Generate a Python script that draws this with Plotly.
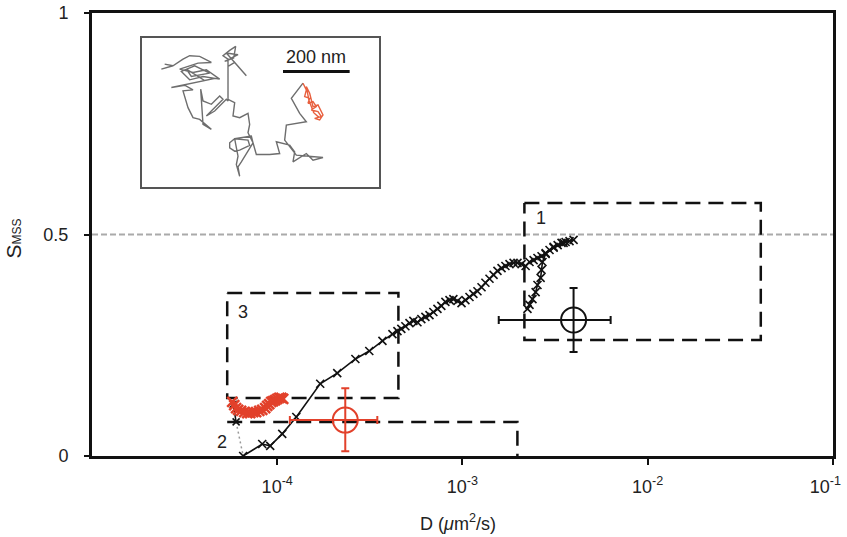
import numpy as np
import plotly.graph_objects as go

FONT = "Liberation Sans, Arial, sans-serif"

# ---- main trajectory curve (log10 D, S_MSS) ----
CURVE_LOGD = [-4.184, -4.081, -4.038, -3.973, -3.897, -3.768, -3.676, -3.578, -3.503, -3.432,
              -3.378, -3.351, -3.330, -3.308, -3.286, -3.265, -3.243, -3.222, -3.200, -3.178,
              -3.157, -3.135, -3.114, -3.092, -3.070, -3.049, -3.027, -3.005, -2.984, -2.962,
              -2.941, -2.919, -2.897, -2.876, -2.854, -2.832, -2.811, -2.789, -2.768, -2.746,
              -2.724, -2.703, -2.681, -2.659, -2.638, -2.616, -2.595, -2.573, -2.551, -2.530,
              -2.508, -2.486, -2.465, -2.443, -2.422, -2.400, -2.454, -2.508, -2.551, -2.568,
              -2.573, -2.578, -2.595, -2.605, -2.622, -2.638, -2.649]
CURVE_S = [0.000, 0.027, 0.023, 0.050, 0.088, 0.163, 0.187, 0.219, 0.237, 0.260,
           0.275, 0.282, 0.287, 0.293, 0.300, 0.305, 0.302, 0.309, 0.314, 0.318,
           0.325, 0.332, 0.339, 0.348, 0.352, 0.354, 0.350, 0.345, 0.352, 0.359,
           0.366, 0.372, 0.381, 0.391, 0.400, 0.409, 0.418, 0.424, 0.429, 0.433,
           0.436, 0.436, 0.433, 0.429, 0.438, 0.442, 0.447, 0.451, 0.458, 0.465,
           0.472, 0.476, 0.481, 0.483, 0.485, 0.488, 0.481, 0.470, 0.456, 0.438,
           0.420, 0.402, 0.386, 0.370, 0.354, 0.341, 0.332]

# ---- confined (red) part ----
RED_LOGD = [-4.243, -4.232, -4.222, -4.211, -4.195, -4.178, -4.162, -4.146, -4.130, -4.114,
            -4.097, -4.081, -4.065, -4.054, -4.043, -4.032, -4.022, -4.011, -4.000, -3.989,
            -3.978, -3.968]
RED_S = [0.122, 0.115, 0.108, 0.104, 0.102, 0.099, 0.097, 0.097, 0.099, 0.099,
         0.102, 0.104, 0.108, 0.113, 0.117, 0.122, 0.124, 0.126, 0.129, 0.131,
         0.131, 0.129]

# short connector from the red start towards the axis
LINK_LOGD = [-4.238, -4.222]
LINK_S = [0.117, 0.077]
DOT_LOGD = [-4.222, -4.184]
DOT_S = [0.077, 0.000]

# ---- mean values with error bars ----
MEAN_D = [3.98e-3, 2.33e-4]
MEAN_S = [0.307, 0.081]
MEAN_DX_PLUS = [2.33e-3, 1.14e-4]
MEAN_DX_MINUS = [2.41e-3, 1.16e-4]
MEAN_S_PLUS = [0.072, 0.072]
MEAN_S_MINUS = [0.072, 0.070]
MEAN_COLORS = ["#111111", "#e2412b"]

# ---- dashed regions ----
BOX1_D = [2.16e-3, 4.08e-2]; BOX1_S = [0.262, 0.571]
BOX3_D = [5.37e-5, 4.51e-4]; BOX3_S = [0.131, 0.368]
BOX2_D = [5.37e-5, 1.98e-3]; BOX2_S = [0.0, 0.077]
REGION_LABELS = ["1", "2", "3"]
REGION_LABEL_D = [2.64e-3, 5.05e-5, 6.55e-5]
REGION_LABEL_S = [0.537, 0.032, 0.325]

# ---- axes ticks ----
XTICK_VALS = [1e-4, 1e-3, 1e-2, 1e-1]
XTICK_TEXT = ["10<sup>-4</sup>", "10<sup>-3</sup>", "10<sup>-2</sup>",
              "10<sup>-1</sup>&nbsp;&nbsp;&nbsp;"]
YTICK_VALS = [0, 0.5, 1]
YTICK_TEXT = ["0", "0.5", "1"]

# ---- inset trajectory (nm, image orientation) ----
TRACK = [(155,118),(190,108),(165,103),(190,108),(220,88),(240,78),(270,80),(305,98),
         (265,100),(210,118),(250,128),(290,120),(330,148),(280,140),(240,150),
         (215,125),(255,108),(300,130),(245,140),(230,118),(285,152),(320,145),
         (185,173),(225,166),(250,180),(220,183),(235,233),(250,263),(270,268),(295,288),
         (305,298),(280,283),(273,178),(280,213),(305,223),(330,198),(340,208),(290,258),
         (315,243),(350,208),(355,213),(355,88),(340,78),(360,62),(378,50),(372,85),
         (345,95),(385,75),(350,70),(375,98),(410,138),(375,98),(355,110),(355,208),
         (375,218),(370,258),(390,263),(415,250),(420,283),(415,308),(430,338),
         (425,318),(375,326),(360,338),(360,353),(375,363),(390,360),(420,346),(415,330),
         (375,326),(385,378),(380,403),(390,438),(385,410),(395,395),(430,338),
         (440,373),(480,373),(510,370),(500,335),(540,345),(555,365),(550,395),(590,370),
         (610,390),(640,382),(560,375),(525,330),(530,285),(590,275),(570,250),(545,205),
         (580,160)]
TRACK_X = [p[0] for p in TRACK]
TRACK_Y = [p[1] for p in TRACK]
RED_TRACK = [(580,160),(590,180),(585,200),(600,205),(595,220),(610,215),(620,230),
             (605,240),(625,245),(635,260),(615,265),(630,270),(640,255),(625,225),
             (610,230),(600,190),(590,170),(598,212),(612,248),(628,262)]
RED_TRACK_X = [p[0] for p in RED_TRACK]
RED_TRACK_Y = [p[1] for p in RED_TRACK]
SCALE_NM = 200
SCALE_X0 = 520
SCALE_Y = 125

fig = go.Figure()

def box_trace(d, s, sides="full"):
    if sides == "full":
        xs = [d[0], d[1], d[1], d[0], d[0]]
        ys = [s[1], s[1], s[0], s[0], s[1]]
    else:
        xs = [d[0], d[1], d[1]]
        ys = [s[1], s[1], s[0]]
    return go.Scatter(x=xs, y=ys, mode="lines", hoverinfo="skip", showlegend=False,
                      line=dict(color="#111111", width=2.5, dash="15px,8px"))

# reference line at 0.5
fig.add_trace(go.Scatter(x=[1e-5, 1e-1], y=[0.5, 0.5], mode="lines", showlegend=False,
                         line=dict(color="#aaaaaa", width=2, dash="6px,3px")))
fig.add_trace(box_trace(BOX1_D, BOX1_S))
fig.add_trace(box_trace(BOX3_D, BOX3_S))
fig.add_trace(box_trace(BOX2_D, BOX2_S, sides="open"))

fig.add_trace(go.Scatter(x=10 ** np.array(DOT_LOGD), y=DOT_S, mode="lines", showlegend=False,
                         line=dict(color="#999999", width=1.5, dash="2px,3px")))
fig.add_trace(go.Scatter(x=10 ** np.array(LINK_LOGD), y=LINK_S, mode="lines+markers",
                         showlegend=False, line=dict(color="#111111", width=1.5),
                         marker=dict(symbol="x-thin", size=7, line=dict(color="#111111", width=1.5))))
fig.add_trace(go.Scatter(x=10 ** np.array(CURVE_LOGD), y=CURVE_S, mode="lines+markers",
                         showlegend=False, line=dict(color="#111111", width=1.6),
                         marker=dict(symbol="x-thin", size=8, line=dict(color="#111111", width=1.6))))
fig.add_trace(go.Scatter(x=10 ** np.array(RED_LOGD), y=RED_S, mode="lines+markers",
                         showlegend=False, line=dict(color="#e2412b", width=6),
                         marker=dict(symbol="x-thin", size=10, line=dict(color="#e2412b", width=2.5))))

for i in range(2):
    fig.add_trace(go.Scatter(
        x=[MEAN_D[i]], y=[MEAN_S[i]], mode="markers", showlegend=False,
        marker=dict(symbol="circle-open", size=25, color=MEAN_COLORS[i],
                    line=dict(color=MEAN_COLORS[i], width=2)),
        error_x=dict(type="data", array=[MEAN_DX_PLUS[i]], arrayminus=[MEAN_DX_MINUS[i]],
                     color=MEAN_COLORS[i], thickness=2, width=4),
        error_y=dict(type="data", array=[MEAN_S_PLUS[i]], arrayminus=[MEAN_S_MINUS[i]],
                     color=MEAN_COLORS[i], thickness=2, width=4)))

# inset
fig.add_trace(go.Scatter(x=TRACK_X, y=TRACK_Y, mode="lines", xaxis="x2", yaxis="y2",
                         showlegend=False, line=dict(color="#6e6e6e", width=1.4)))
fig.add_trace(go.Scatter(x=RED_TRACK_X, y=RED_TRACK_Y, mode="lines", xaxis="x2", yaxis="y2",
                         showlegend=False, line=dict(color="#e8603f", width=1.4)))
fig.add_trace(go.Scatter(x=[SCALE_X0, SCALE_X0 + SCALE_NM], y=[SCALE_Y, SCALE_Y], mode="lines",
                         xaxis="x2", yaxis="y2", showlegend=False,
                         line=dict(color="#111111", width=3)))

annotations = []
for lab, d, s in zip(REGION_LABELS, REGION_LABEL_D, REGION_LABEL_S):
    annotations.append(dict(x=np.log10(d), y=s, xref="x", yref="y", text=lab, showarrow=False,
                            font=dict(family=FONT, size=18, color="#222222")))
annotations.append(dict(x=SCALE_X0 + SCALE_NM / 2, y=SCALE_Y - 8, xref="x2", yref="y2",
                        text="200 nm", showarrow=False, yanchor="bottom",
                        font=dict(family=FONT, size=18, color="#222222")))
annotations.append(dict(x=-0.124, y=0.49, xref="paper", yref="paper", textangle=-90,
                        text="S<span style='font-size:12px'>MSS</span>", showarrow=False,
                        font=dict(family=FONT, size=21, color="#222222")))
annotations.append(dict(x=0.494, y=-0.12, xref="paper", yref="paper", yanchor="top",
                        text="D (<i>\u03bc</i>m<sup>2</sup>/s)", showarrow=False,
                        font=dict(family=FONT, size=18, color="#222222")))

fig.update_layout(
    width=847, height=537,
    margin=dict(l=92, r=14, t=13, b=81, autoexpand=False),
    paper_bgcolor="white", plot_bgcolor="white",
    font=dict(family=FONT, size=18, color="#222222"),
    showlegend=False,
    xaxis=dict(type="log", range=[-5, -0.9995], tickvals=XTICK_VALS, ticktext=XTICK_TEXT,
               showgrid=False, zeroline=False, showline=True, linecolor="#111111", linewidth=3,
               mirror=True, ticks="outside", ticklen=6, tickwidth=2, tickcolor="#111111",
               ticklabelstandoff=6, automargin=False, ticklabeloverflow="allow"),
    yaxis=dict(range=[0, 1], tickvals=YTICK_VALS, ticktext=YTICK_TEXT,
               showgrid=False, zeroline=False, showline=True, linecolor="#111111", linewidth=3,
               mirror=True, ticks="outside", ticklen=5, tickwidth=2, tickcolor="#111111",
               ticklabelstandoff=12, automargin=False, ticklabeloverflow="allow"),
    xaxis2=dict(domain=[0.0675, 0.3873], anchor="y2", range=[97, 808], showgrid=False,
                zeroline=False, showticklabels=False, ticks="", showline=True,
                linecolor="#555555", linewidth=2, mirror=True),
    yaxis2=dict(domain=[0.6072, 0.9436], anchor="x2", range=[470, 25], showgrid=False,
                zeroline=False, showticklabels=False, ticks="", showline=True,
                linecolor="#555555", linewidth=2, mirror=True),
    annotations=annotations,
)

fig.write_html("out.html")
